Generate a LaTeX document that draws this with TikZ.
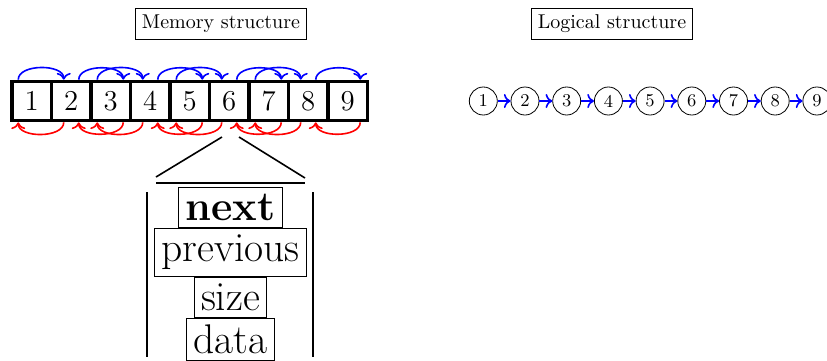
\documentclass[tikz,border=0pt]{standalone}
\usetikzlibrary{calc,arrows.meta}
\begin{document}
\begin{tikzpicture}[x=0.5pt,y=0.5pt,
  title/.style={draw,thin,font=\normalsize},
  mem/.style={draw,line width=1.6pt,minimum size=19.75pt,inner sep=0pt,font=\Large},
  logi/.style={draw,circle,minimum size=14pt,inner sep=0pt,font=\small},
  fwd/.style={blue,thick,->},
  bwd/.style={red,thick,->},
  field/.style={draw,thin,font=\huge},
  bar/.style={thick}]
\useasboundingbox (0,0) rectangle (827,-360);
\node[title] (tm) at (221,-24) {Memory structure};
\node[title] (tl) at (612,-24) {Logical structure};
\foreach \i in {1,...,9}
  \node[mem] (m\i) at ({31.75+39.5*(\i-1)},-101) {\i};
\foreach \i in {1,...,9}
  \node[logi] (l\i) at ({483.3+41.7*(\i-1)},-101) {\i};
\foreach \i [evaluate=\i as \j using int(\i+1)] in {1,...,8}
  \draw[fwd] (l\i) -- (l\j);
\foreach \i/\j/\p/\q in {1/2/-13.5/-7.5,2/3/7.5/12.5,3/4/-13.5/-7.5,4/5/7.5/12.5,
                         5/6/-13.5/-7.5,6/7/7.5/12.5,7/8/-13.5/-7.5,8/9/7.5/12.5}{
  \draw[fwd] ($(m\i.north)+(\p,0)$) to[out=90,in=90,looseness=0.9] ($(m\j.north)+(\q,0)$);
  \draw[bwd] ($(m\j.south)+(\q,0)$) to[out=-90,in=-90,looseness=0.9] ($(m\i.south)+(\p,0)$);
}
% zoom of block 6
\coordinate (dl1) at (222,-137);
\coordinate (dl2) at (156,-177);
\coordinate (dr1) at (239,-137);
\coordinate (dr2) at (305,-178);
\coordinate (h1) at (156,-183);
\coordinate (h2) at (305,-183);
\coordinate (vl1) at (147,-192);
\coordinate (vl2) at (147,-357);
\coordinate (vr1) at (313,-192);
\coordinate (vr2) at (313,-357);
\draw[bar] (dl1) -- (dl2);
\draw[bar] (dr1) -- (dr2);
\draw[bar] (h1) -- (h2);
\draw[bar] (vl1) -- (vl2);
\draw[bar] (vr1) -- (vr2);
\node[field,font=\huge\bfseries,anchor=north] (nx) at (230.5,-187) {next};
\node[field,anchor=north] (pv) at (nx.south) {previous};
\node[field,anchor=north] (sz) at (pv.south) {size};
\node[field,anchor=north] (dt) at (sz.south) {data};
\end{tikzpicture}
\end{document}
